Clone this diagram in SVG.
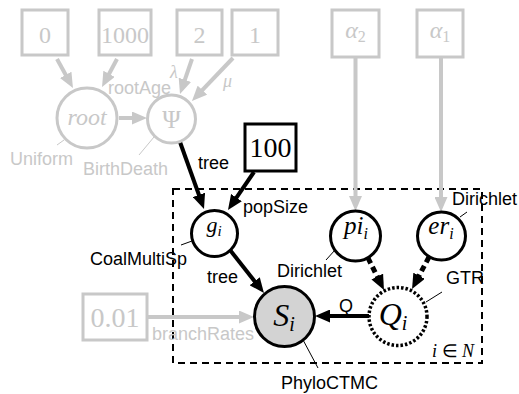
<svg xmlns="http://www.w3.org/2000/svg" width="519" height="394" viewBox="0 0 519 394">
<style>
.sans{font-family:"Liberation Sans",Arial,sans-serif;font-size:18px}
.ser{font-family:"Liberation Serif","Times New Roman",serif}
.it{font-style:italic}
.g{fill:#c8c8c8}
.k{fill:#000}
.gbox{fill:#fff;stroke:#c8c8c8;stroke-width:3}
.kbox{fill:#fff;stroke:#000;stroke-width:3}
.gcirc{fill:#fff;stroke:#c8c8c8;stroke-width:3}
.kcirc{fill:#fff;stroke:#000;stroke-width:3}
.gline{stroke:#c8c8c8;stroke-width:4;fill:none}
.kline{stroke:#000;stroke-width:4;fill:none}
.kdash{stroke:#000;stroke-width:5;fill:none;stroke-dasharray:6 4}
.lead{stroke-width:1;fill:none}
</style>
<defs>
<marker id="ag" markerUnits="userSpaceOnUse" markerWidth="15" markerHeight="13" refX="7" refY="6.5" orient="auto" viewBox="0 0 15 13">
<path d="M0,0 L15,6.5 L0,13 z" fill="#c8c8c8"/>
</marker>
<marker id="ak" markerUnits="userSpaceOnUse" markerWidth="15" markerHeight="13" refX="7" refY="6.5" orient="auto" viewBox="0 0 15 13">
<path d="M0,0 L15,6.5 L0,13 z" fill="#000"/>
</marker>
</defs>
<rect id="plate" x="173" y="189" width="309" height="174" fill="none" stroke="#000" stroke-width="2" stroke-dasharray="7 5"/>
<text class="ser" x="432" y="357" font-size="18"><tspan class="it">i</tspan> ∈ <tspan class="it">N</tspan></text>
<g id="connectors">
<line class="gline" x1="57" y1="59" x2="69.1" y2="81" marker-end="url(#ag)"/>
<line class="gline" x1="117" y1="59" x2="105.8" y2="80" marker-end="url(#ag)"/>
<line class="gline" x1="192" y1="59" x2="182.6" y2="86.4" marker-end="url(#ag)"/>
<line class="gline" x1="233" y1="58" x2="197.5" y2="95.2" marker-end="url(#ag)"/>
<line class="gline" x1="119" y1="118" x2="139" y2="118" marker-end="url(#ag)"/>
<line class="gline" x1="355.5" y1="57" x2="355.5" y2="203" marker-end="url(#ag)"/>
<line class="gline" x1="441" y1="57" x2="441" y2="204" marker-end="url(#ag)"/>
<line class="gline" x1="147" y1="317" x2="246" y2="317" marker-end="url(#ag)"/>
<line class="kline" x1="180" y1="142" x2="201.3" y2="201.5" marker-end="url(#ak)"/>
<line class="kline" x1="254" y1="172" x2="232.5" y2="203.4" marker-end="url(#ak)"/>
<line class="kline" x1="230" y1="250" x2="259" y2="286.7" marker-end="url(#ak)"/>
<line class="kdash" x1="368" y1="258" x2="380.4" y2="282.8" marker-end="url(#ak)"/>
<line class="kdash" x1="429" y1="257" x2="415.8" y2="281.9" marker-end="url(#ak)"/>
<line class="kline" x1="369" y1="316" x2="323" y2="316" marker-end="url(#ak)"/>
<line class="lead" stroke="#c8c8c8" x1="64" y1="140" x2="57" y2="145"/>
<line class="lead" stroke="#c8c8c8" x1="154" y1="137" x2="139" y2="155"/>
<line class="lead" stroke="#000" x1="192" y1="241" x2="181" y2="245"/>
<line class="lead" stroke="#000" x1="335" y1="250" x2="326" y2="260"/>
<line class="lead" stroke="#000" x1="460" y1="217" x2="467" y2="212"/>
<line class="lead" stroke="#000" x1="426" y1="302" x2="442" y2="292"/>
<line class="lead" stroke="#000" x1="302" y1="338" x2="318" y2="368"/>
<text class="sans g" x="108" y="94" font-size="17">rootAge</text>
<text class="ser it g" x="170" y="78" font-size="18">λ</text>
<text class="ser it g" x="223" y="87" font-size="18">μ</text>
<text class="sans k" x="198" y="169">tree</text>
<text class="sans k" x="243" y="213">popSize</text>
<text class="sans k" x="207" y="283">tree</text>
<text class="sans g" x="152" y="340">branchRates</text>
<text class="sans k" x="339" y="312">Q</text>
</g>
<g id="n0"><rect class="gbox" x="22" y="10" width="46" height="45"/><text class="ser g" x="45" y="43" font-size="24" text-anchor="middle">0</text></g>
<g id="n1000"><rect class="gbox" x="99" y="10" width="52" height="45"/><text class="ser g" x="125" y="43" font-size="24" text-anchor="middle">1000</text></g>
<g id="n2"><rect class="gbox" x="177" y="10" width="45" height="45"/><text class="ser g" x="199.5" y="43" font-size="24" text-anchor="middle">2</text></g>
<g id="n1"><rect class="gbox" x="232" y="10" width="46" height="45"/><text class="ser g" x="255" y="43" font-size="24" text-anchor="middle">1</text></g>
<g id="alpha2"><rect class="gbox" x="332" y="10" width="47" height="47"/><text class="ser g" x="355.5" y="38" font-size="24" text-anchor="middle"><tspan class="it">α</tspan><tspan font-size="16" dy="4">2</tspan></text></g>
<g id="alpha1"><rect class="gbox" x="417" y="10" width="46" height="47"/><text class="ser g" x="440" y="38" font-size="24" text-anchor="middle"><tspan class="it">α</tspan><tspan font-size="16" dy="4">1</tspan></text></g>
<g id="root"><circle class="gcirc" cx="87" cy="118" r="30"/><text class="ser it g" x="87" y="125" font-size="24" text-anchor="middle">root</text><text class="sans g" x="10" y="165">Uniform</text></g>
<g id="psi"><circle class="gcirc" cx="171.5" cy="119" r="24"/><text class="ser g" x="171.5" y="128" font-size="25" text-anchor="middle">Ψ</text><text class="sans g" x="83" y="175">BirthDeath</text></g>
<g id="n100"><rect class="kbox" x="245" y="124" width="51" height="47"/><text class="ser k" x="270.5" y="157" font-size="28" text-anchor="middle">100</text></g>
<g id="n001"><rect class="gbox" x="83" y="294" width="64" height="46"/><text class="ser g" x="115" y="327" font-size="28" text-anchor="middle">0.01</text></g>
<g id="gi"><circle class="kcirc" cx="214.5" cy="233.5" r="23"/><text class="ser it k" x="214" y="232" font-size="22" text-anchor="middle">g<tspan font-size="15" dy="4">i</tspan></text><text class="sans k" x="90" y="265">CoalMultiSp</text></g>
<g id="Si"><circle cx="284.5" cy="316.5" r="30" fill="#d3d3d3" stroke="#000" stroke-width="3"/><text class="ser it k" x="284" y="326" font-size="32" text-anchor="middle">S<tspan font-size="20" dy="5">i</tspan></text><text class="sans k" x="281" y="389">PhyloCTMC</text></g>
<g id="pii"><circle class="kcirc" cx="355.5" cy="236" r="25"/><text class="ser it k" x="356" y="234" font-size="25" text-anchor="middle">pi<tspan font-size="16" dy="5">i</tspan></text><text class="sans k" x="277" y="277">Dirichlet</text></g>
<g id="eri"><circle class="kcirc" cx="441.5" cy="236" r="24"/><text class="ser it k" x="441" y="234" font-size="25" text-anchor="middle">er<tspan font-size="16" dy="5">i</tspan></text><text class="sans k" x="452" y="205">Dirichlet</text></g>
<g id="Qi"><circle cx="398" cy="316.5" r="29" fill="#fff" stroke="#000" stroke-width="3.5" stroke-dasharray="2.5 2"/><text class="ser it k" x="393" y="325" font-size="32" text-anchor="middle">Q<tspan font-size="20" dy="5">i</tspan></text><text class="sans k" x="446" y="284">GTR</text></g>
</svg>
